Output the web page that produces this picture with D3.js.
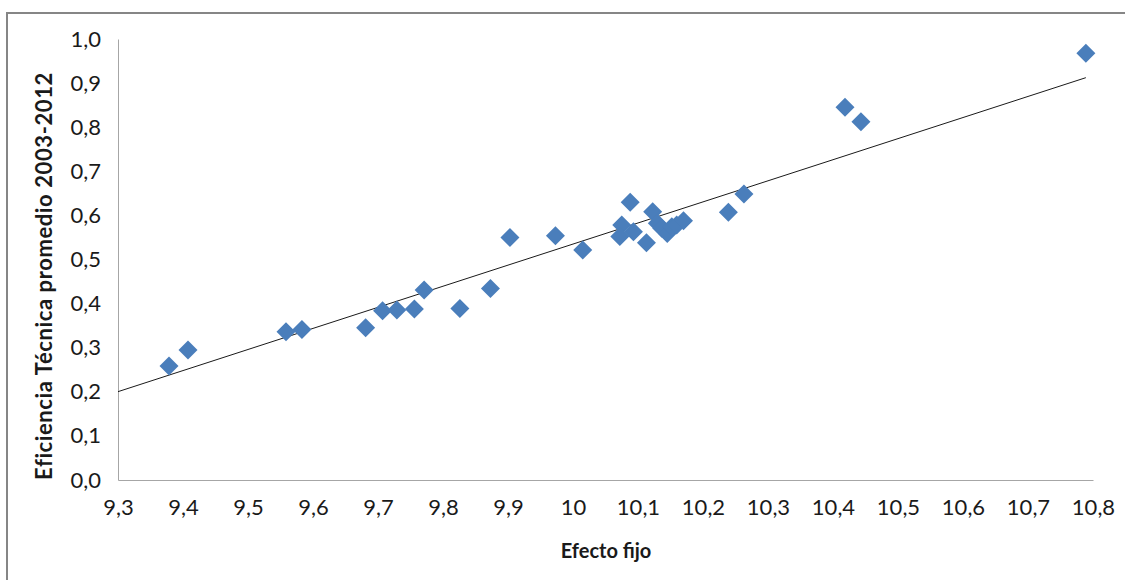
<!DOCTYPE html>
<html>
<head>
<meta charset="utf-8">
<script src="https://cdn.jsdelivr.net/npm/d3@7"></script>
<style>
  html, body { margin: 0; padding: 0; background: #fff; }
  svg { display: block; }
  text { font-family: Lato, "Open Sans", sans-serif; fill: #1a1a1a; }
</style>
</head>
<body>
<div id="chart"></div>
<script>
// efecto fijo (x) vs eficiencia tecnica promedio (y)
const efectoFijo = [9.3785, 9.4077, 9.5585, 9.583, 9.681, 9.707, 9.729, 9.756, 9.771, 9.826,
                    9.873, 9.903, 9.973, 10.015, 10.088, 10.075, 10.072, 10.093, 10.113, 10.1226,
                    10.1297, 10.1365, 10.145, 10.152, 10.1595, 10.170, 10.239, 10.263, 10.4185, 10.443,
                    10.789];
const eficiencia = [0.2585, 0.295, 0.336, 0.341, 0.345, 0.384, 0.3855, 0.388, 0.431, 0.389,
                    0.434, 0.550, 0.554, 0.5215, 0.630, 0.578, 0.552, 0.563, 0.538, 0.6085,
                    0.582, 0.571, 0.559, 0.5745, 0.578, 0.588, 0.607, 0.6485, 0.845, 0.8125,
                    0.9675];

// linear trendline end points (as drawn)
const trendX = [9.3, 10.789];
const trendY = [0.2003, 0.9123];

const xTicks = [9.3, 9.4, 9.5, 9.6, 9.7, 9.8, 9.9, 10, 10.1, 10.2, 10.3, 10.4, 10.5, 10.6, 10.7, 10.8];
const yTicks = [0, 0.1, 0.2, 0.3, 0.4, 0.5, 0.6, 0.7, 0.8, 0.9, 1.0];

const width = 1125, height = 580;
const plot = {left: 118, right: 1093, top: 39, bottom: 480};

const svg = d3.select('#chart').append('svg')
    .attr('width', width)
    .attr('height', height);

// outer chart border (runs off the image at right/bottom)
svg.append('rect')
    .attr('x', 7).attr('y', 13)
    .attr('width', 1140).attr('height', 600)
    .attr('fill', 'none')
    .attr('stroke', '#868686')
    .attr('stroke-width', 2);

const x = d3.scaleLinear().domain([9.3, 10.8]).range([plot.left, plot.right]);
const y = d3.scaleLinear().domain([0, 1]).range([plot.bottom, plot.top]);

const fmt = v => {
    let s = (Math.abs(v - 10) < 1e-9) ? '10' : d3.format('.1f')(v);
    return s.replace('.', ',');
};

// x axis
const xAxis = svg.append('g')
    .attr('transform', 'translate(0,' + plot.bottom + ')')
    .call(d3.axisBottom(x).tickValues(xTicks).tickSize(0).tickPadding(19).tickFormat(fmt));
xAxis.select('.domain').attr('stroke', '#a6a6a6');
xAxis.selectAll('text').attr('font-size', 22).attr('fill', '#1a1a1a');

// y axis
const yAxis = svg.append('g')
    .attr('transform', 'translate(' + plot.left + ',0)')
    .call(d3.axisLeft(y).tickValues(yTicks).tickSize(0).tickPadding(17)
        .tickFormat(v => d3.format('.1f')(v).replace('.', ',')));
yAxis.select('.domain').attr('stroke', '#a6a6a6');
yAxis.selectAll('text').attr('font-size', 22).attr('fill', '#1a1a1a');

// trendline
svg.append('line')
    .attr('x1', x(trendX[0])).attr('y1', y(trendY[0]))
    .attr('x2', x(trendX[1])).attr('y2', y(trendY[1]))
    .attr('stroke', '#1a1a1a')
    .attr('stroke-width', 1);

// diamonds
const r = 9.5;
svg.append('g').selectAll('path')
    .data(d3.range(efectoFijo.length))
    .join('path')
    .attr('transform', i => 'translate(' + x(efectoFijo[i]) + ',' + y(eficiencia[i]) + ')')
    .attr('d', 'M0,' + (-r) + 'L' + r + ',0L0,' + r + 'L' + (-r) + ',0Z')
    .attr('fill', '#4a7ebb');

// axis titles
svg.append('text')
    .attr('x', 606).attr('y', 558)
    .attr('text-anchor', 'middle')
    .attr('font-size', 20)
    .attr('font-weight', 'bold')
    .text('Efecto fijo');

svg.append('text')
    .attr('transform', 'translate(52,276) rotate(-90)')
    .attr('text-anchor', 'middle')
    .attr('font-size', 22)
    .attr('letter-spacing', 0.6)
    .attr('font-weight', 'bold')
    .text('Eficiencia Técnica promedio 2003-2012');
</script>
</body>
</html>
